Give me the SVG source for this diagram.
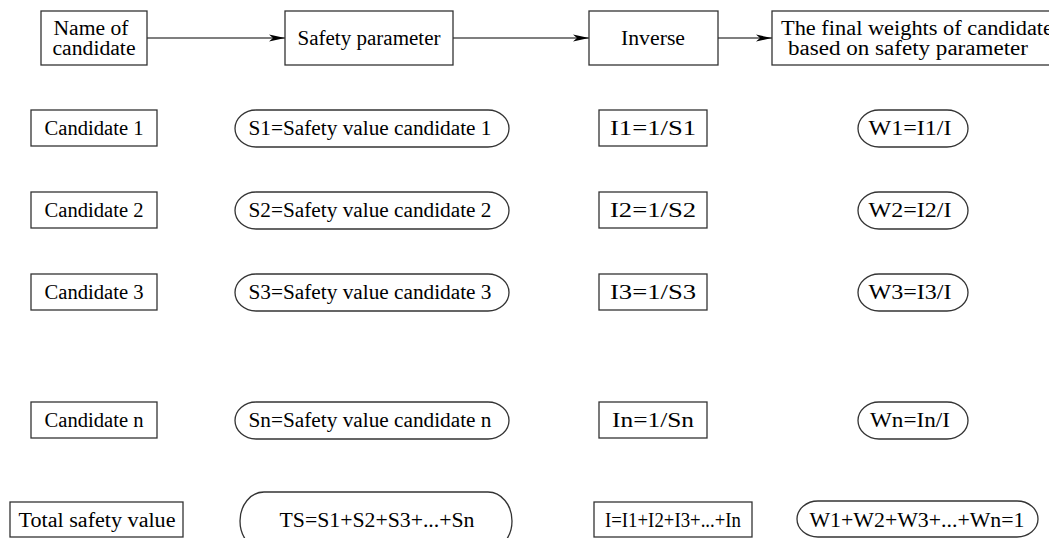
<svg xmlns="http://www.w3.org/2000/svg" width="1049" height="538" viewBox="0 0 1049 538">
<defs>
<style>
.b{fill:#fff;stroke:#333;stroke-width:1.3}
.t{font-family:"Liberation Serif","Times New Roman",serif;font-size:20px;fill:#000;text-anchor:middle}
.c{stroke:#000;stroke-width:1.2;fill:none}
</style>
<marker id="ah" markerUnits="userSpaceOnUse" markerWidth="17" markerHeight="8" refX="16" refY="4" orient="auto">
<path d="M0,0.6 L16,4 L0,7.4 L4,4 Z" fill="#000"/>
</marker>
</defs>
<rect width="1049" height="538" fill="#fff"/>
<g id="connectors">
<line class="c" x1="147" y1="38" x2="285" y2="38" marker-end="url(#ah)"/>
<line class="c" x1="453" y1="38" x2="589" y2="38" marker-end="url(#ah)"/>
<line class="c" x1="718" y1="38" x2="772" y2="38" marker-end="url(#ah)"/>
</g>
<g id="h-name"><rect class="b" x="41" y="11" width="106" height="54"/>
<text class="t" x="91" y="34.5" textLength="75" lengthAdjust="spacingAndGlyphs">Name of</text>
<text class="t" x="94" y="54.5" textLength="83" lengthAdjust="spacingAndGlyphs">candidate</text></g>
<g id="h-safety"><rect class="b" x="285" y="11" width="168" height="54"/>
<text class="t" x="369" y="45" textLength="143" lengthAdjust="spacingAndGlyphs">Safety parameter</text></g>
<g id="h-inverse"><rect class="b" x="589" y="11" width="129" height="54"/>
<text class="t" x="653" y="45" textLength="64" lengthAdjust="spacingAndGlyphs">Inverse</text></g>
<g id="h-final"><rect class="b" x="772" y="11" width="290" height="54"/>
<text class="t" x="917" y="35" textLength="272" lengthAdjust="spacingAndGlyphs">The final weights of candidate</text>
<text class="t" x="908" y="55" textLength="240" lengthAdjust="spacingAndGlyphs">based on safety parameter</text></g>

<g id="cand1"><rect class="b" x="31" y="110" width="126" height="36"/><text class="t" x="94" y="135" textLength="99" lengthAdjust="spacingAndGlyphs">Candidate 1</text></g>
<g id="s1"><rect class="b" x="235" y="110" width="274" height="37" rx="21" ry="18.5"/><text class="t" x="370" y="135" textLength="243" lengthAdjust="spacingAndGlyphs">S1=Safety value candidate 1</text></g>
<g id="i1"><rect class="b" x="599" y="110" width="108" height="36"/><text class="t" x="653" y="135" textLength="86" lengthAdjust="spacingAndGlyphs">I1=1/S1</text></g>
<g id="w1"><rect class="b" x="858" y="110" width="110" height="37" rx="21" ry="18.5"/><text class="t" x="910" y="135" textLength="83" lengthAdjust="spacingAndGlyphs">W1=I1/I</text></g>

<g id="cand2"><rect class="b" x="31" y="192" width="126" height="36"/><text class="t" x="94" y="217" textLength="99" lengthAdjust="spacingAndGlyphs">Candidate 2</text></g>
<g id="s2"><rect class="b" x="235" y="192" width="274" height="37" rx="21" ry="18.5"/><text class="t" x="370" y="217" textLength="243" lengthAdjust="spacingAndGlyphs">S2=Safety value candidate 2</text></g>
<g id="i2"><rect class="b" x="599" y="192" width="108" height="36"/><text class="t" x="653" y="217" textLength="86" lengthAdjust="spacingAndGlyphs">I2=1/S2</text></g>
<g id="w2"><rect class="b" x="858" y="192" width="110" height="37" rx="21" ry="18.5"/><text class="t" x="910" y="217" textLength="83" lengthAdjust="spacingAndGlyphs">W2=I2/I</text></g>

<g id="cand3"><rect class="b" x="31" y="274" width="126" height="36"/><text class="t" x="94" y="299" textLength="99" lengthAdjust="spacingAndGlyphs">Candidate 3</text></g>
<g id="s3"><rect class="b" x="235" y="274" width="274" height="37" rx="21" ry="18.5"/><text class="t" x="370" y="299" textLength="243" lengthAdjust="spacingAndGlyphs">S3=Safety value candidate 3</text></g>
<g id="i3"><rect class="b" x="599" y="274" width="108" height="36"/><text class="t" x="653" y="299" textLength="86" lengthAdjust="spacingAndGlyphs">I3=1/S3</text></g>
<g id="w3"><rect class="b" x="858" y="274" width="110" height="37" rx="21" ry="18.5"/><text class="t" x="910" y="299" textLength="83" lengthAdjust="spacingAndGlyphs">W3=I3/I</text></g>

<g id="candn"><rect class="b" x="31" y="402" width="126" height="36"/><text class="t" x="94" y="427" textLength="99" lengthAdjust="spacingAndGlyphs">Candidate n</text></g>
<g id="sn"><rect class="b" x="235" y="402" width="274" height="37" rx="21" ry="18.5"/><text class="t" x="370" y="427" textLength="243" lengthAdjust="spacingAndGlyphs">Sn=Safety value candidate n</text></g>
<g id="in"><rect class="b" x="599" y="402" width="108" height="36"/><text class="t" x="653" y="427" textLength="82" lengthAdjust="spacingAndGlyphs">In=1/Sn</text></g>
<g id="wn"><rect class="b" x="858" y="402" width="110" height="37" rx="21" ry="18.5"/><text class="t" x="910" y="427" textLength="80" lengthAdjust="spacingAndGlyphs">Wn=In/I</text></g>

<g id="total"><rect class="b" x="10" y="502" width="173" height="35"/><text class="t" x="97" y="527" textLength="157" lengthAdjust="spacingAndGlyphs">Total safety value</text></g>
<g id="ts"><rect class="b" x="240" y="492" width="272" height="58" rx="24" ry="29"/><text class="t" x="377" y="527" textLength="195" lengthAdjust="spacingAndGlyphs">TS=S1+S2+S3+...+Sn</text></g>
<g id="isum"><rect class="b" x="594" y="502" width="158" height="35"/><text class="t" x="673" y="527" textLength="136" lengthAdjust="spacingAndGlyphs">I=I1+I2+I3+...+In</text></g>
<g id="wsum"><rect class="b" x="797" y="501" width="241" height="36" rx="21" ry="18"/><text class="t" x="917" y="527" textLength="215" lengthAdjust="spacingAndGlyphs">W1+W2+W3+...+Wn=1</text></g>
</svg>
